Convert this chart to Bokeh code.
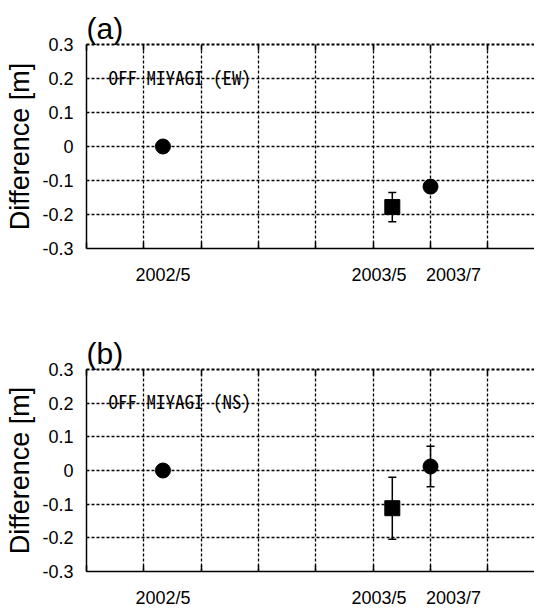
from bokeh.plotting import figure
from bokeh.models import (ColumnDataSource, FixedTicker, LinearAxis, Whisker,
                          TeeHead, Label, Range1d)
from bokeh.layouts import column
from bokeh.embed import file_html
from bokeh.resources import INLINE

# ---------------- data ----------------
circle_dates = ["2002/5", "2003/7"]
square_dates = ["2003/5"]

ew_circle = [0.0, -0.118]
ew_circle_err = [0.0, 0.0]
ew_square = [-0.178]
ew_square_err = [0.043]

ns_circle = [0.0, 0.012]
ns_circle_err = [0.0, 0.060]
ns_square = [-0.112]
ns_square_err = [0.092]

x_tick_labels = ["2002/5", "2003/5", "2003/7"]
x_label_months = [4.0, 15.3, 19.2]          # where the date labels sit (months since 2002/1)
grid_months = [0, 3, 6, 9, 12, 15, 18, 21, 24]
y_ticks = [-0.3, -0.2, -0.1, 0.0, 0.1, 0.2, 0.3]
y_tick_labels = ["-0.3", "-0.2", "-0.1", "0", "0.1", "0.2", "0.3"]
y_grid = [-0.2, -0.1, 0.0, 0.1, 0.2]


def months(d):
    y, m = d.split("/")
    return (int(y) - 2002) * 12 + (int(m) - 1)


TICK_FONT = "Liberation Sans"
CAPTION_FONT = "Noto Sans Mono CJK JP"


def panel(title, caption, c_vals, c_err, s_vals, s_err, top_border, bottom_border, height):
    p = figure(width=534, height=height, output_backend="svg", toolbar_location=None,
               x_range=Range1d(0, 23.44), y_range=Range1d(-0.3, 0.3),
               x_axis_location=None, y_axis_location=None,
               min_border_left=86, min_border_right=0,
               min_border_top=top_border, min_border_bottom=bottom_border)
    p.outline_line_color = None
    p.background_fill_color = "white"
    p.border_fill_color = "white"

    p.title.text = title
    p.title.text_font = TICK_FONT
    p.title.text_font_size = "30px"
    p.title.text_font_style = "normal"
    p.title.text_color = "black"
    p.title.align = "left"
    p.title.offset = 0
    p.title.standoff = 0

    # left axis
    ya = LinearAxis(ticker=FixedTicker(ticks=y_ticks),
                    major_label_overrides={t: l for t, l in zip(y_ticks, y_tick_labels)})
    ya.axis_label = "Difference [m]"
    ya.axis_label_text_font = TICK_FONT
    ya.axis_label_text_font_size = "27px"
    ya.axis_label_text_font_style = "normal"
    ya.axis_label_text_color = "black"
    ya.axis_label_standoff = 4
    ya.major_label_text_font = TICK_FONT
    ya.major_label_text_font_size = "18px"
    ya.major_label_text_color = "black"
    ya.major_label_standoff = 13
    ya.major_tick_in = 0
    ya.major_tick_out = 0
    ya.minor_tick_line_color = None
    ya.axis_line_color = "black"
    ya.axis_line_width = 1.5
    p.add_layout(ya, "left")

    # bottom axis: inner ticks on grid positions, date labels
    xb = LinearAxis(ticker=FixedTicker(ticks=x_label_months, minor_ticks=grid_months),
                    major_label_overrides={t: l for t, l in zip(x_label_months, x_tick_labels)})
    xb.major_tick_line_color = None
    xb.major_tick_in = 0
    xb.major_tick_out = 0
    xb.minor_tick_in = 6
    xb.minor_tick_out = 0
    xb.minor_tick_line_color = "black"
    xb.minor_tick_line_width = 1.5
    xb.major_label_standoff = 16
    xb.major_label_text_font = TICK_FONT
    xb.major_label_text_font_size = "18px"
    xb.major_label_text_color = "black"
    xb.axis_line_color = "black"
    xb.axis_line_width = 1.5
    p.add_layout(xb, "below")

    # top axis: inner ticks only
    xt = LinearAxis(ticker=FixedTicker(ticks=[], minor_ticks=grid_months))
    xt.major_label_text_font_size = "0px"
    xt.major_label_standoff = 0
    xt.major_tick_out = 0
    xt.major_tick_in = 0
    xt.minor_tick_in = 6
    xt.minor_tick_out = 0
    xt.minor_tick_line_color = "black"
    xt.minor_tick_line_width = 1.5
    xt.axis_line_color = "black"
    xt.axis_line_width = 2
    xt.axis_line_dash = "3 2"
    p.add_layout(xt, "above")

    p.xgrid.ticker = FixedTicker(ticks=grid_months)
    p.ygrid.ticker = FixedTicker(ticks=y_grid)
    for g in (p.xgrid, p.ygrid):
        g.grid_line_color = "black"
        g.grid_line_dash = "3 2"
        g.grid_line_width = 1.3

    cx = [months(d) for d in circle_dates]
    sx = [months(d) for d in square_dates]

    # error bars
    ex, eu, el = [], [], []
    for x, v, e in list(zip(cx, c_vals, c_err)) + list(zip(sx, s_vals, s_err)):
        if e > 0:
            ex.append(x); eu.append(v + e); el.append(v - e)
    esrc = ColumnDataSource(dict(x=ex, upper=eu, lower=el))
    w = Whisker(base="x", upper="upper", lower="lower", source=esrc,
                line_color="black", line_width=1.5, level="glyph",
                upper_head=TeeHead(size=8, line_color="black", line_width=1.5),
                lower_head=TeeHead(size=8, line_color="black", line_width=1.5))
    p.add_layout(w)

    p.scatter(cx, c_vals, marker="circle", size=15, fill_color="black", line_color="black")
    p.scatter(sx, s_vals, marker="square", size=15, fill_color="black", line_color="black")

    p.add_layout(Label(x=1.15, y=0.207, text=caption, text_font=CAPTION_FONT,
                       text_font_size="19px", text_color="black",
                       text_baseline="alphabetic"))
    return p


pa = panel("(a)", "OFF MIYAGI (EW)", ew_circle, ew_circle_err, ew_square, ew_square_err,
           44, 44, 292)
pb = panel("(b)", "OFF MIYAGI (NS)", ns_circle, ns_circle_err, ns_square, ns_square_err,
           77, 37, 318)

layout = column(pa, pb, spacing=0)
open("out.html", "w").write(file_html(layout, INLINE))
